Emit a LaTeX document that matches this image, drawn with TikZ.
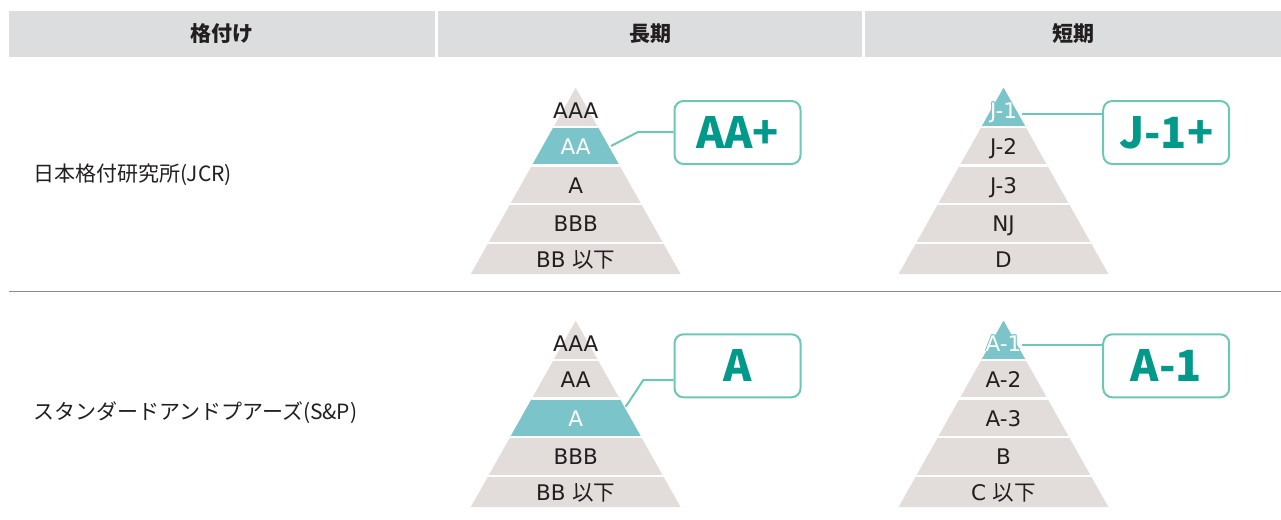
\documentclass[tikz,border=0pt]{standalone}
\usepackage{fontspec}
\setmainfont{Noto Sans CJK JP}
\newfontfamily\latinfont{DejaVu Sans}
\newfontfamily\jpfont{Noto Sans CJK JP}

\definecolor{headgray}{HTML}{DCDDDF}
\definecolor{tiergray}{HTML}{E2DDDA}
\definecolor{tierteal}{HTML}{7BC4CA}
\definecolor{boxline}{HTML}{6CC8B4}
\definecolor{boxtext}{HTML}{00998A}
\definecolor{inktext}{HTML}{231F20}
\definecolor{rulegray}{HTML}{8C8C8C}

\tikzset{
  headcell/.style={fill=headgray, minimum height=45.7pt, inner sep=0pt, text=inktext,
    font=\fontsize{21}{25}\selectfont\bfseries},
  agency/.style={anchor=west, inner sep=0pt, text=inktext, font=\fontsize{21}{25}\selectfont},
  tierlabel/.style={anchor=base, inner sep=0pt, text=inktext, font=\fontsize{21.5}{25}\selectfont\latinfont},
  ratebox/.style={draw=boxline, line width=2pt, rounded corners=9pt, minimum width=126pt,
    minimum height=63pt, inner sep=0pt, text=boxtext, font=\fontsize{43}{48}\selectfont\bfseries},
  link/.style={draw=boxline, line width=2pt},
}

% #1 name, #2 centre x, #3 apex y, #4 teal tier, #5 labels from the top
\newcommand\ratepyramid[5]{
  \begin{scope}[shift={(#2,#3)}]
    \fill[tiergray] (0,0) -- (105,186.5) -- (-105,186.5) -- cycle;
    \begin{scope}
      \clip (0,0) -- (105,186.5) -- (-105,186.5) -- cycle;
      \pgfmathsetmacro\tiertop{#4==0 ? 0 : 39+38.7*(#4-1)}
      \pgfmathsetmacro\tierbot{39+38.7*#4}
      \fill[tierteal] (-120,\tiertop) rectangle (120,\tierbot);
      \foreach \k in {1,...,4}
        \fill[white] (-120,{39+38.7*(\k-1)-1.1}) rectangle (120,{39+38.7*(\k-1)+1.1});
    \end{scope}
    \foreach \lab [count=\k from 0] in {#5} {
      \pgfmathsetmacro\ly{{22.5,59,97.6,136.3,172.3}[\k]+7.8}
      \ifnum\k=#4
        \foreach \a in {0,45,...,315}
          \node[tierlabel, text=tierteal] at ([shift={(\a:0.8)}] 0,\ly) {\lab};
        \node[tierlabel, text=white] (#1-\k) at (0,\ly) {\lab};
      \else
        \node[tierlabel] (#1-\k) at (0,\ly) {\lab};
      \fi
    }
  \end{scope}
}

\begin{document}
\begin{tikzpicture}[x=1pt,y=-1pt]
  \useasboundingbox (0,0) rectangle (1281,519);

  \node[headcell, minimum width=425.7pt] (head-grade) at (221.85,33.85) {格付け};
  \node[headcell, minimum width=424pt] (head-long) at (650,33.85) {長期};
  \node[headcell, minimum width=415.7pt] (head-short) at (1073.15,33.85) {短期};

  \draw[rulegray, line width=1pt] (9,291) -- (1281,291);

  \node[agency] (jcr) at (33,175) {日本格付研究所(JCR)};
  \node[agency] (sp) at (33,413) {スタンダードアンドプアーズ(S\&P)};

  \ratepyramid{jcrL}{575.7}{87.7}{1}{AAA,AA,A,BBB,BB {\jpfont 以下}}
  \ratepyramid{jcrS}{1003.5}{87.7}{0}{J-1,J-2,J-3,NJ,D}
  \ratepyramid{spL}{575.7}{320.7}{2}{AAA,AA,A,BBB,BB {\jpfont 以下}}
  \ratepyramid{spS}{1003.5}{320.7}{0}{A-1,A-2,A-3,B,C {\jpfont 以下}}

  \node[ratebox] (jcrL-box) at (737.5,132.5) {AA+};
  \node[ratebox] (jcrS-box) at (1166.2,132.5) {J-1+};
  \node[ratebox] (spL-box) at (737.5,365.8) {A};
  \node[ratebox] (spS-box) at (1166.2,365.8) {A-1};

  \coordinate (jcrL-from) at (611,146);
  \coordinate (jcrL-bend) at (638,132);
  \draw[link] (jcrL-from) -- (jcrL-bend) -- (jcrL-bend -| jcrL-box.west);
  \coordinate (jcrS-from) at (1021.7,114.3);
  \draw[link] (jcrS-from) -- (jcrS-from -| jcrS-box.west);
  \coordinate (spL-from) at (625.7,406.7);
  \coordinate (spL-bend) at (643.3,380);
  \draw[link] (spL-from) -- (spL-bend) -- (spL-bend -| spL-box.west);
  \coordinate (spS-from) at (1021.7,345);
  \draw[link] (spS-from) -- (spS-from -| spS-box.west);
\end{tikzpicture}
\end{document}
